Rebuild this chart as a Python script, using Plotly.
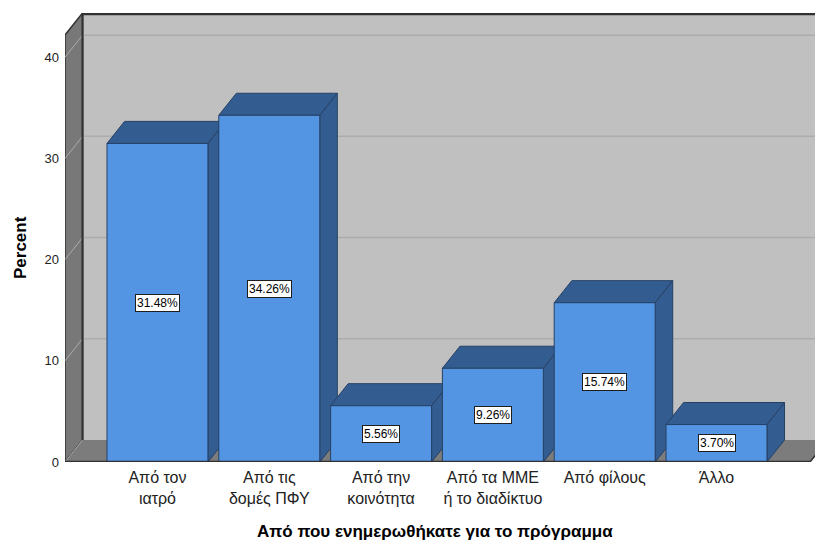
import plotly.graph_objects as go

# Source of information about the programme (percent of respondents)
categories = [
    "Από τον<br>ιατρό",
    "Από τις<br>δομές ΠΦΥ",
    "Από την<br>κοινότητα",
    "Από τα ΜΜΕ<br>ή το διαδίκτυο",
    "Από φίλους",
    "Άλλο",
]
percent = [31.48, 34.26, 5.56, 9.26, 15.74, 3.70]
y_ticks = [0, 10, 20, 30, 40]

# 3D look: depth offset (in axis units) and bar width
DX, DY = 0.157, 2.18
BAR_W = 0.903
X_MIN, X_MAX = -0.827, 5.881
Y_MAX = 44.37
WALL_TOP = Y_MAX - DY
FLOOR_RIGHT = 5.836

FRONT = "rgb(83,149,227)"
SHADE = "rgb(51,93,145)"
EDGE = "rgb(38,64,100)"
BACK_WALL = "rgb(192,192,192)"
SIDE_WALL = "rgb(120,120,120)"
FLOOR = "rgb(124,124,124)"
GRID = "rgb(172,172,172)"
FRAME = "rgb(50,50,50)"
FONT = "Arial, Liberation Sans"

fig = go.Figure()


def poly(xs, ys, fill):
    fig.add_trace(go.Scatter(
        x=xs + [xs[0]], y=ys + [ys[0]], mode="lines", fill="toself",
        fillcolor=fill, line=dict(color=EDGE, width=1),
        hoverinfo="skip", showlegend=False,
    ))


for i, v in enumerate(percent):
    x0, x1 = i - BAR_W / 2, i + BAR_W / 2
    # top face
    poly([x0, x1, x1 + DX, x0 + DX], [v, v, v + DY, v + DY], SHADE)
    # right side face
    poly([x1, x1 + DX, x1 + DX, x1], [0, DY, v + DY, v], SHADE)
    # front face
    poly([x0, x1, x1, x0], [0, 0, v, v], FRONT)

shapes = []
# back wall
shapes.append(dict(type="rect", xref="x", yref="y", x0=X_MIN + DX, x1=X_MAX + 1,
                   y0=DY, y1=Y_MAX + 1, fillcolor=BACK_WALL, line_width=0, layer="below"))
# left wall
shapes.append(dict(type="path", xref="x", yref="y",
                   path=f"M {X_MIN},0 L {X_MIN + DX},{DY} L {X_MIN + DX},{Y_MAX} L {X_MIN},{WALL_TOP} Z",
                   fillcolor=SIDE_WALL, line=dict(color=FRAME, width=1.5), layer="below"))
# floor
shapes.append(dict(type="path", xref="x", yref="y",
                   path=f"M {X_MIN},0 L {FLOOR_RIGHT},0 L {FLOOR_RIGHT + DX},{DY} L {X_MIN + DX},{DY} Z",
                   fillcolor=FLOOR, line_width=0, layer="below"))
# grid lines on the back and left walls
for t in y_ticks[1:]:
    shapes.append(dict(type="line", xref="x", yref="y", x0=X_MIN + DX, x1=X_MAX + 1,
                       y0=t + DY, y1=t + DY, line=dict(color=GRID, width=1.5), layer="below"))
    shapes.append(dict(type="line", xref="x", yref="y", x0=X_MIN, x1=X_MIN + DX,
                       y0=t, y1=t + DY, line=dict(color=GRID, width=1), layer="below"))
# floor/left wall seam
shapes.append(dict(type="line", xref="x", yref="y", x0=X_MIN, x1=X_MIN + DX, y0=0, y1=DY,
                   line=dict(color=GRID, width=1), layer="below"))
# frame edges
shapes.append(dict(type="line", xref="x", yref="y", x0=X_MIN + DX, x1=X_MIN + DX, y0=DY, y1=Y_MAX,
                   line=dict(color=FRAME, width=2), layer="below"))
shapes.append(dict(type="line", xref="x", yref="y", x0=X_MIN + DX, x1=X_MAX + 1, y0=Y_MAX - 0.1, y1=Y_MAX - 0.1,
                   line=dict(color=FRAME, width=2.5), layer="below"))
shapes.append(dict(type="line", xref="x", yref="y", x0=X_MIN, x1=FLOOR_RIGHT, y0=0.05, y1=0.05,
                   line=dict(color=FRAME, width=1.5), layer="above"))
shapes.append(dict(type="line", xref="x", yref="y", x0=FLOOR_RIGHT, x1=FLOOR_RIGHT + DX, y0=0, y1=DY,
                   line=dict(color=FRAME, width=1.5), layer="above"))

annotations = []
for i, v in enumerate(percent):
    annotations.append(dict(
        x=i, y=v / 2, xref="x", yref="y", text=f"{v:.2f}%", showarrow=False,
        font=dict(family=FONT, size=12, color="black"),
        bgcolor="white", bordercolor="rgb(30,30,30)", borderwidth=1, borderpad=1,
    ))
annotations.append(dict(
    text="<b>Από που ενημερωθήκατε για το πρόγραμμα</b>", xref="paper", yref="paper",
    x=(435 - 65) / 750, y=0, yshift=-69, showarrow=False, yanchor="middle",
    font=dict(family=FONT, size=17, color="black"),
))
annotations.append(dict(
    text="<b>Percent</b>", xref="paper", yref="paper", x=0, xshift=-45,
    y=(462 - 248) / 449, showarrow=False, textangle=-90, xanchor="center", yanchor="middle",
    font=dict(family=FONT, size=17, color="black"),
))

fig.update_layout(
    width=815, height=541,
    margin=dict(l=65, r=0, t=13, b=79, pad=0),
    paper_bgcolor="white", plot_bgcolor="white",
    shapes=shapes, annotations=annotations,
    font=dict(family=FONT, color="rgb(34,34,34)"),
    xaxis=dict(
        range=[X_MIN, X_MAX], tickvals=list(range(len(categories))), ticktext=categories,
        showgrid=False, zeroline=False, showline=False, ticks="",
        tickfont=dict(size=16), ticklabelstandoff=4, fixedrange=True,
    ),
    yaxis=dict(
        range=[0, Y_MAX], tickvals=y_ticks, showgrid=False, zeroline=False, showline=False,
        ticks="", tickfont=dict(size=13), ticklabelstandoff=5, fixedrange=True,
    ),
)

fig.write_html("out.html")
